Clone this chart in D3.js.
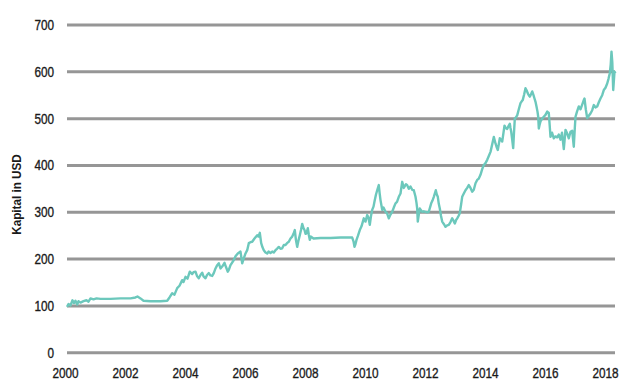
<!DOCTYPE html>
<html>
<head>
<meta charset="utf-8">
<script src="https://cdn.jsdelivr.net/npm/d3@7"></script>
<style>
  html, body { margin: 0; padding: 0; background: #fff; }
  svg { display: block; }
  text { font-family: "Liberation Sans", Arial, sans-serif; fill: #1a1a1a; }
  .tick { stroke: #1a1a1a; stroke-width: 0.35px; }
</style>
</head>
<body>
<svg id="chart" width="627" height="390"></svg>
<script>
const yearTicks = [2000, 2002, 2004, 2006, 2008, 2010, 2012, 2014, 2016, 2018];
const valueTicks = [0, 100, 200, 300, 400, 500, 600, 700];
const yTitle = "Kapital in USD";

const years = [
 2000.05,2000.1,2000.167,2000.233,2000.283,2000.333,2000.39,2000.433,2000.5,2000.6,2000.7,2000.767,2000.833,2000.933,
 2001.033,2001.167,2001.5,2001.833,2002.167,2002.333,2002.4,2002.5,2002.6,2002.833,2003.167,2003.39,2003.467,2003.557,
 2003.633,2003.723,2003.8,2003.89,2003.933,2004.0,2004.067,2004.143,2004.223,2004.267,2004.333,2004.383,2004.443,2004.5,
 2004.557,2004.6,2004.667,2004.717,2004.777,2004.833,2004.89,2004.943,2005.0,2005.057,2005.11,2005.167,2005.223,2005.3,
 2005.35,2005.41,2005.45,2005.5,2005.55,2005.61,2005.667,2005.743,2005.833,2005.89,2005.933,2006.0,2006.057,2006.11,
 2006.167,2006.223,2006.3,2006.39,2006.433,2006.477,2006.523,2006.567,2006.61,2006.667,2006.723,2006.767,2006.833,2006.89,
 2006.943,2007.0,2007.05,2007.11,2007.167,2007.223,2007.277,2007.333,2007.383,2007.443,2007.5,2007.557,2007.6,2007.643,
 2007.683,2007.723,2007.767,2007.81,2007.85,2007.89,2007.933,2007.967,2008.0,2008.033,2008.077,2008.11,2008.143,2008.183,
 2008.223,2008.267,2008.5,2008.833,2009.167,2009.5,2009.557,2009.6,2009.633,2009.667,2009.7,2009.75,2009.81,2009.867,
 2009.943,2010.0,2010.057,2010.1,2010.143,2010.183,2010.223,2010.267,2010.31,2010.35,2010.39,2010.443,2010.473,2010.5,
 2010.533,2010.557,2010.6,2010.667,2010.717,2010.777,2010.833,2010.89,2010.943,2011.0,2011.05,2011.11,2011.167,2011.223,
 2011.277,2011.35,2011.39,2011.443,2011.5,2011.557,2011.61,2011.667,2011.7,2011.723,2011.743,2011.777,2011.81,2011.85,
 2011.89,2011.943,2012.0,2012.057,2012.11,2012.19,2012.233,2012.277,2012.343,2012.377,2012.41,2012.443,2012.477,2012.517,
 2012.557,2012.61,2012.667,2012.723,2012.777,2012.833,2012.89,2012.933,2012.977,2013.017,2013.057,2013.1,2013.143,2013.183,
 2013.223,2013.277,2013.333,2013.39,2013.443,2013.5,2013.557,2013.61,2013.667,2013.723,2013.777,2013.833,2013.89,2013.943,
 2014.0,2014.057,2014.11,2014.167,2014.223,2014.277,2014.333,2014.367,2014.41,2014.443,2014.477,2014.517,2014.557,2014.6,
 2014.633,2014.677,2014.723,2014.767,2014.81,2014.833,2014.857,2014.89,2014.923,2014.95,2014.977,2015.017,2015.057,2015.11,
 2015.167,2015.207,2015.243,2015.29,2015.333,2015.373,2015.41,2015.443,2015.477,2015.517,2015.557,2015.6,2015.633,2015.667,
 2015.7,2015.733,2015.757,2015.777,2015.8,2015.833,2015.89,2015.943,2016.0,2016.057,2016.11,2016.167,2016.217,2016.277,
 2016.333,2016.39,2016.443,2016.5,2016.55,2016.61,2016.667,2016.723,2016.777,2016.833,2016.89,2016.943,2016.977,2017.0,
 2017.05,2017.11,2017.167,2017.223,2017.267,2017.3,2017.343,2017.39,2017.443,2017.5,2017.557,2017.61,2017.667,2017.723,
 2017.777,2017.833,2017.89,2017.943,2018.0,2018.057,2018.1,2018.143,2018.173,2018.2,2018.227,2018.257,2018.283,2018.3,2018.333
];
const capital = [
 98,104,101,112,106,111,103,110,107,110,112,109,116,114,
 116,115,115,116,116,118,120,116,111,110,110,111,118,127,
 124,138,143,155,151,162,158,173,168,172,173,164,159,166,
 171,163,159,166,170,165,164,170,180,187,191,180,184,192,
 183,173,178,187,192,198,206,212,216,191,200,212,219,234,
 236,237,244,251,248,256,234,225,219,214,212,216,213,216,
 214,219,222,226,222,223,230,230,234,237,244,248,254,262,
 240,226,240,251,262,275,266,262,254,255,266,252,241,248,
 246,244,245,245,246,246,246,238,226,232,241,250,262,270,
 287,280,294,288,273,292,305,312,326,338,347,358,340,326,
 314,305,310,301,298,287,295,301,310,319,322,333,340,365,
 352,360,358,350,355,348,347,333,320,308,280,295,308,304,
 301,302,301,300,301,319,325,333,347,338,333,318,308,292,
 280,275,269,272,273,279,287,282,276,283,287,292,298,315,
 333,340,347,352,358,352,344,348,362,369,372,380,392,401,
 405,412,420,429,445,461,447,440,433,445,458,455,451,470,
 485,480,478,484,489,480,472,455,437,470,500,503,507,520,
 533,537,540,552,565,560,554,550,547,552,558,550,543,536,
 526,515,504,479,486,494,500,504,508,515,512,461,470,458,
 462,460,466,455,470,435,476,468,458,472,474,440,480,504,
 515,526,520,530,538,543,520,501,506,511,518,529,524,526,
 535,543,550,561,566,575,585,597,615,643,620,561,585,600,597
];

const svg = d3.select("#chart");
const x = d3.scaleLinear().domain([2000, 2018]).range([65.5, 605.5]);
const y = d3.scaleLinear().domain([0, 700]).range([352.7, 25]);
const gridX0 = 67, gridX1 = 615;
const sx = 0.84;

// gridlines
svg.append("g").selectAll("line").data(valueTicks).join("line")
  .attr("x1", gridX0).attr("x2", gridX1)
  .attr("y1", d => y(d)).attr("y2", d => y(d))
  .attr("stroke", "#969696").attr("stroke-width", 3);

// y labels
svg.append("g").selectAll("text").data(valueTicks).join("text")
  .attr("class", "tick")
  .attr("transform", d => `translate(54,${y(d)}) scale(${sx},1)`)
  .attr("dy", "0.36em")
  .attr("text-anchor", "end").attr("font-size", 14)
  .text(d => d);

// x labels
svg.append("g").selectAll("text").data(yearTicks).join("text")
  .attr("class", "tick")
  .attr("transform", d => `translate(${x(d)},378) scale(${sx},1)`)
  .attr("text-anchor", "middle").attr("font-size", 14)
  .text(d => d);

// y title
svg.append("text")
  .attr("transform", "translate(21,194.5) rotate(-90) scale(0.9,1)")
  .attr("text-anchor", "middle").attr("font-size", 13).attr("font-weight", "bold")
  .text(yTitle);

// line
const data = years.map((t, i) => [t, capital[i]]);
svg.append("path").datum(data)
  .attr("fill", "none").attr("stroke", "#6cc8bc").attr("stroke-width", 2.4)
  .attr("stroke-linejoin", "round")
  .attr("d", d3.line().x(d => x(d[0])).y(d => y(d[1])));
</script>
</body>
</html>
